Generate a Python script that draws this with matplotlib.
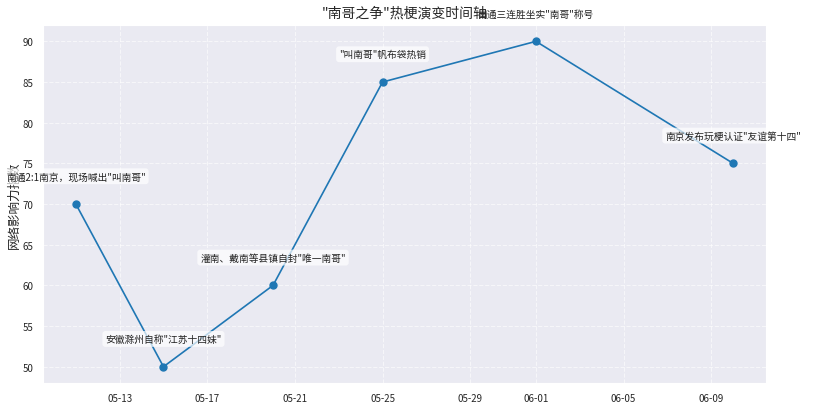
import matplotlib
matplotlib.use("Agg")
import matplotlib.pyplot as plt
import matplotlib.dates as mdates
import seaborn as sns
import pandas as pd

dates = ["2025-05-11", "2025-05-15", "2025-05-20", "2025-05-25", "2025-06-01", "2025-06-10"]
values = [70, 50, 60, 85, 90, 75]
events = [
    "南通2:1南京，现场喊出\"叫南哥\"",
    "安徽滁州自称\"江苏十四妹\"",
    "灌南、戴南等县镇自封\"唯一南哥\"",
    "\"叫南哥\"帆布袋热销",
    "南通三连胜坐实\"南哥\"称号",
    "南京发布玩梗认证\"友谊第十四\"",
]
title = "\"南哥之争\"热梗演变时间轴"
ylabel = "网络影响力指数"

sns.set_style("darkgrid")
plt.rcParams['font.family'] = ['Noto Sans CJK SC', 'DejaVu Sans']
plt.rcParams['axes.unicode_minus'] = False

x = pd.to_datetime(dates)

fig = plt.figure(figsize=(8.14, 4.14), dpi=100)
ax = fig.add_axes([0.0528, 0.0725, 0.8882, 0.8645])
ax.plot(x, values, marker='o', color='#1f77b4', linewidth=1.2, markersize=5)

for xi, yi, ev in zip(x, values, events):
    ax.annotate(ev, xy=(xi, yi), xytext=(0, 20), textcoords='offset points',
                ha='center', va='center', fontsize=7, color='#222222',
                bbox=dict(boxstyle='round,pad=0.3', fc='white', ec='none', alpha=0.7))

ax.xaxis.set_major_formatter(mdates.DateFormatter('%m-%d'))
ax.grid(True, linestyle='--', linewidth=0.8, alpha=0.6)
ax.tick_params(labelsize=7)
ax.set_title(title, fontsize=10)
ax.set_ylabel(ylabel, fontsize=9, labelpad=1)

fig.savefig("out.png", dpi=100)
